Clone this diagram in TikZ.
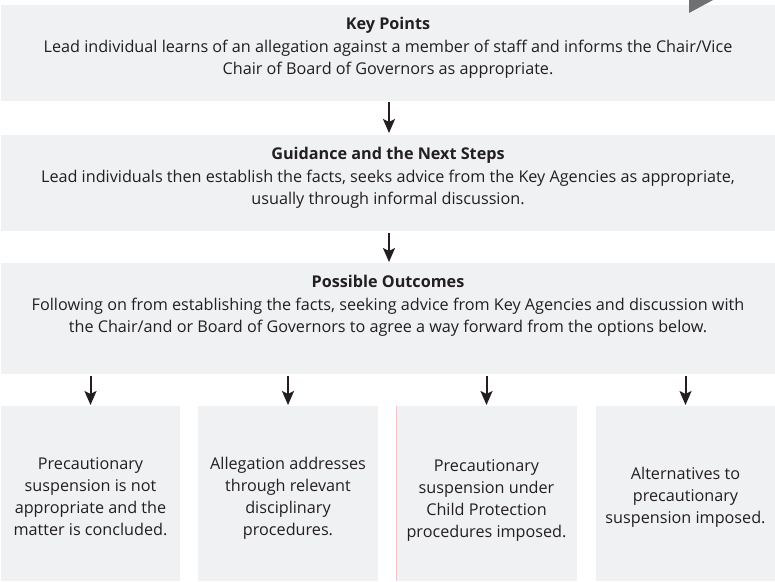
\documentclass[tikz,border=0pt]{standalone}
\usepackage{fontspec}
\setmainfont{Open Sans}
\usetikzlibrary{arrows.meta}
\definecolor{boxgray}{RGB}{240,241,243}
\definecolor{ink}{RGB}{35,31,32}
\definecolor{tri}{RGB}{112,112,112}
\definecolor{pinkline}{RGB}{248,196,204}
\begin{document}
\begin{tikzpicture}[x=1pt,y=-1pt,
  box/.style={fill=boxgray, draw=none, anchor=north west, inner sep=0, outer sep=0},
  txt/.style={font=\fontsize{16.2}{22}\selectfont, text=ink, align=center, inner sep=0, anchor=base},
  arr/.style={draw=ink, line width=2pt, -{Stealth[length=14pt,width=12pt,inset=3pt]}}]
\useasboundingbox (0,0) rectangle (775,581);
\fill[white] (0,0) rectangle (775,581);
% main boxes
\node[box, minimum width=774, minimum height=96] (b1) at (1,5) {};
\node[box, minimum width=774, minimum height=96] (b2) at (1,135) {};
\node[box, minimum width=774, minimum height=111] (b3) at (1,263) {};
% bottom boxes
\node[box, minimum width=179, minimum height=175] (c1) at (1,406) {};
\node[box, minimum width=180, minimum height=175] (c2) at (198,406) {};
\node[box, minimum width=181, minimum height=175] (c3) at (396,406) {};
\node[box, minimum width=179, minimum height=175] (c4) at (596,406) {};
\draw[pinkline, line width=0.8pt] (c3.north west) -- (c3.south west);
% corner triangle
\fill[tri] (689,0) coordinate (ta) -- (689,13) -- (713,0) -- cycle;
% texts (anchor base = baseline of last line)
\node[txt] (t1) at (388,74) {\textbf{Key Points}\\[1pt]Lead individual learns of an allegation against a member of staff and informs the Chair/Vice\\Chair of Board of Governors as appropriate.};
\node[txt] (t2) at (388,204) {\textbf{Guidance and the Next Steps}\\[1pt]Lead individuals then establish the facts, seeks advice from the Key Agencies as appropriate,\\usually through informal discussion.};
\node[txt] (t3) at (388,332) {\textbf{Possible Outcomes}\\[1pt]Following on from establishing the facts, seeking advice from Key Agencies and discussion with\\the Chair/and or Board of Governors to agree a way forward from the options below.};
\node[txt] (u1) at (90.5,535) {Precautionary\\suspension is not\\appropriate and the\\matter is concluded.};
\node[txt] (u2) at (288,535) {Allegation addresses\\through relevant\\disciplinary\\procedures.};
\node[txt] (u3) at (486.5,537) {Precautionary\\suspension under\\Child Protection\\procedures imposed.};
\node[txt] (u4) at (685.5,523) {Alternatives to\\precautionary\\suspension imposed.};
% arrows
\draw[arr] ([xshift=1pt,yshift=-1pt]b1.south) -- ([xshift=1pt,yshift=2pt]b2.north);
\draw[arr] ([xshift=1pt,yshift=-2pt]b2.south) -- ([xshift=1pt,yshift=1pt]b3.north);
\foreach \c in {c1,c2,c3,c4}{
  \draw[arr] ([yshift=-2pt]\c.north |- b3.south) -- ([yshift=1pt]\c.north);
}
\end{tikzpicture}
\end{document}
